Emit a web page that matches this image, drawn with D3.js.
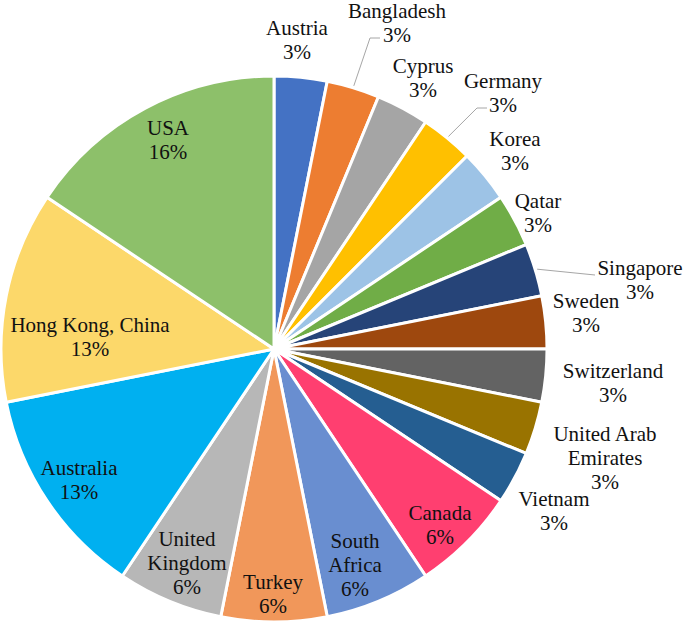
<!DOCTYPE html>
<html>
<head>
<meta charset="utf-8">
<script src="https://cdn.jsdelivr.net/npm/d3@7"></script>
<style>
  body { margin: 0; background: #fff; }
</style>
</head>
<body>
<div id="chart"></div>
<script>
// countries in clockwise order from 12 o'clock
const countries = ["Austria", "Bangladesh", "Cyprus", "Germany", "Korea", "Qatar", "Singapore",
  "Sweden", "Switzerland", "United Arab Emirates", "Vietnam", "Canada", "South Africa", "Turkey",
  "United Kingdom", "Australia", "Hong Kong, China", "USA"];
const counts = [1, 1, 1, 1, 1, 1, 1, 1, 1, 1, 1, 2, 2, 2, 2, 4, 4, 5];
const percentLabels = ["3%", "3%", "3%", "3%", "3%", "3%", "3%", "3%", "3%", "3%", "3%",
  "6%", "6%", "6%", "6%", "13%", "13%", "16%"];
const colors = ["#4472C4", "#ED7D31", "#A5A5A5", "#FFC000", "#9DC3E6", "#70AD47", "#264478",
  "#9E480E", "#636363", "#997300", "#255E91", "#FF3F70", "#698ED0", "#F1975A", "#B7B7B7",
  "#00B0F0", "#FCD86A", "#8DC06A"];
// label text lines (how Excel wrapped them)
const labelLines = [["Austria"], ["Bangladesh"], ["Cyprus"], ["Germany"], ["Korea"], ["Qatar"],
  ["Singapore"], ["Sweden"], ["Switzerland"], ["United Arab", "Emirates"], ["Vietnam"], ["Canada"],
  ["South", "Africa"], ["Turkey"], ["United", "Kingdom"], ["Australia"], ["Hong Kong, China"], ["USA"]];

const width = 685, height = 625;
const cx = 274, cy = 349, radius = 273;

// label centres relative to pie centre (layout only)
const labelOffsets = [[23, -309], [123, -326], [149, -271], [229, -256], [241, -198], [264, -136],
  [366, -69], [312, -36], [339, 34], [331, 109], [280, 162], [166, 176], [81, 216], [-1, 245],
  [-87, 214], [-195, 131], [-184, -12], [-106, -209]];
// leader lines: index -> elbow/end relative to centre
const leaders = { 1: [[96, -311], [106, -311]], 3: [[203, -241], [213, -241]], 6: [[321, -74]] };

const svg = d3.select("#chart").append("svg")
  .attr("width", width).attr("height", height)
  .attr("font-family", "'Liberation Serif', 'Times New Roman', Times, serif")
  .attr("font-size", 21);

const g = svg.append("g").attr("transform", `translate(${cx},${cy})`);

const pie = d3.pie().sort(null).value(d => d);
const arcs = pie(counts);
const arc = d3.arc().innerRadius(0).outerRadius(radius);

g.selectAll("path.slice")
  .data(arcs)
  .enter()
  .append("path")
  .attr("class", "slice")
  .attr("d", arc)
  .attr("fill", (d, i) => colors[i])
  .attr("stroke", "#fff")
  .attr("stroke-width", 3)
  .attr("stroke-linejoin", "round");

// leader lines
Object.keys(leaders).forEach(k => {
  const a = arcs[k];
  const mid = (a.startAngle + a.endAngle) / 2;
  const start = [Math.sin(mid) * (radius + 2), -Math.cos(mid) * (radius + 2)];
  g.append("path")
    .attr("d", d3.line()([start].concat(leaders[k])))
    .attr("fill", "none")
    .attr("stroke", "#A6A6A6")
    .attr("stroke-width", 1);
});

// labels
const lineH = 24;
const labels = g.selectAll("text.lbl")
  .data(arcs)
  .enter()
  .append("text")
  .attr("class", "lbl")
  .attr("text-anchor", "middle")
  .attr("fill", "#111")
  .attr("transform", (d, i) => `translate(${labelOffsets[i][0]},${labelOffsets[i][1]})`);

labels.each(function (d, i) {
  const lines = labelLines[i].concat([percentLabels[i]]);
  const top = -((lines.length - 1) * lineH) / 2;
  d3.select(this).selectAll("tspan")
    .data(lines)
    .enter()
    .append("tspan")
    .attr("x", 0)
    .attr("y", (l, j) => top + j * lineH)
    .attr("dy", "0.35em")
    .text(l => l);
});
</script>
</body>
</html>
